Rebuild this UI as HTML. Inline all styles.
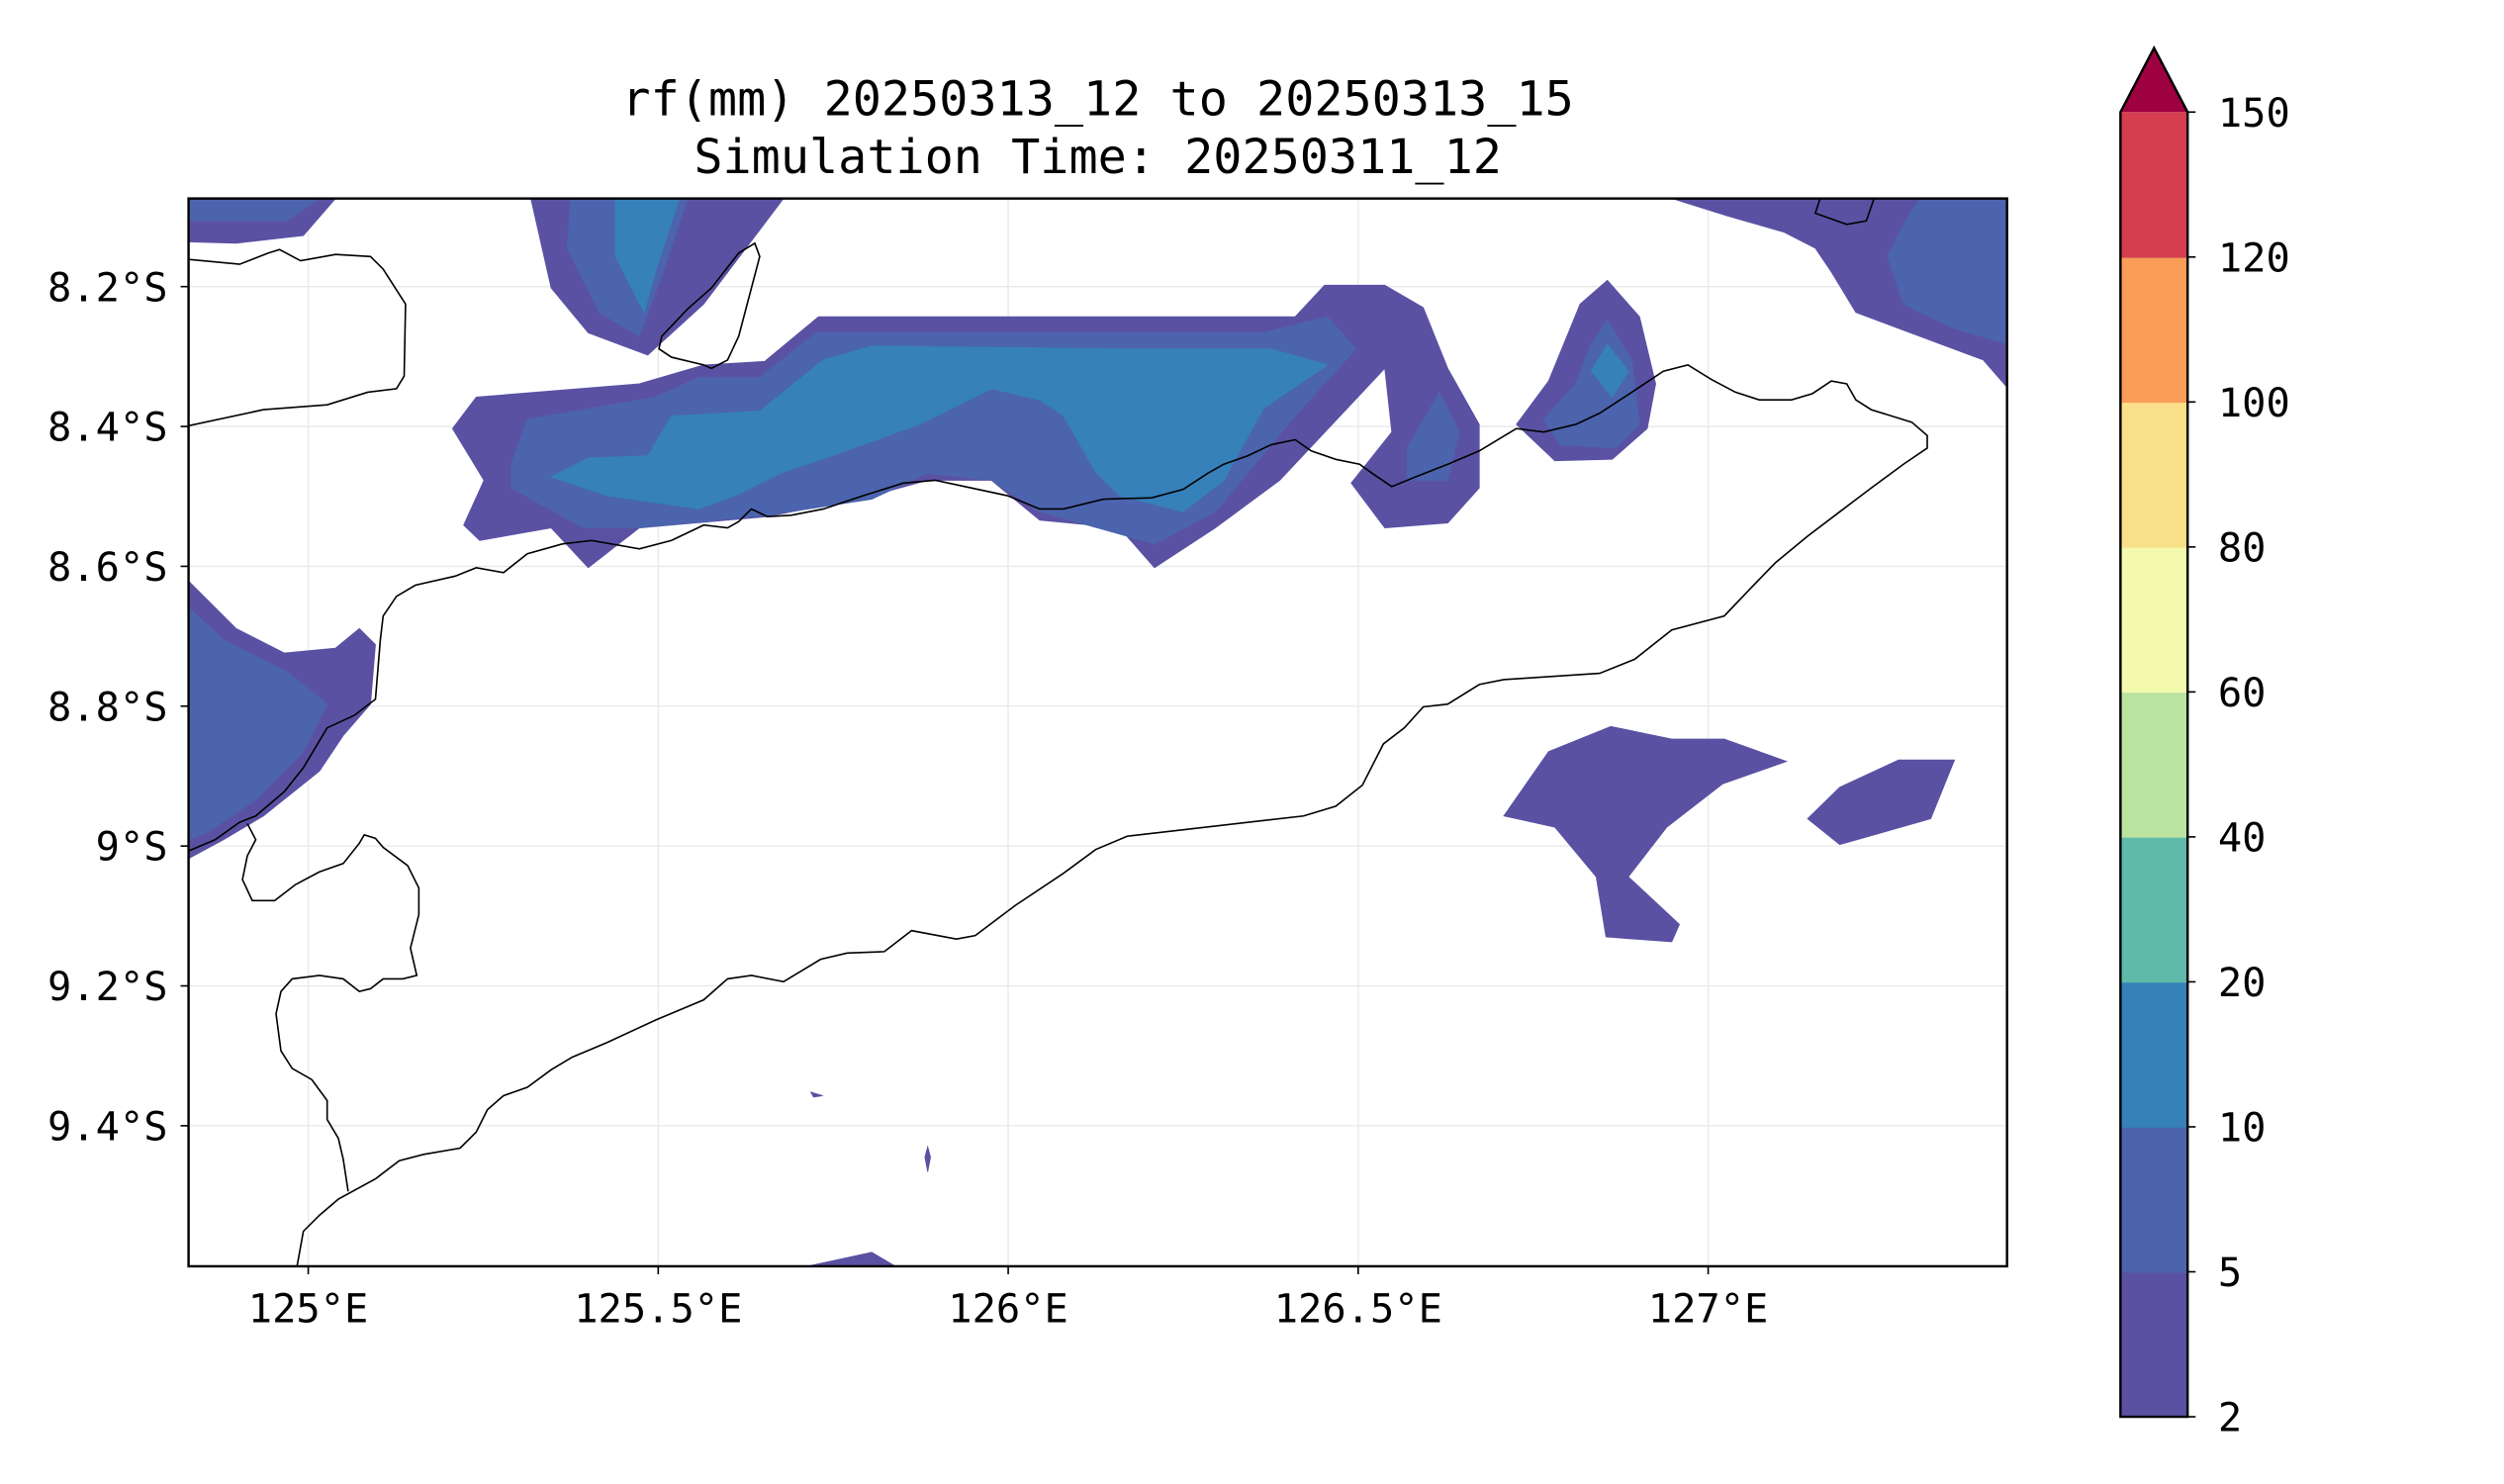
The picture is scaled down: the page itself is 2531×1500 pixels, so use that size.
<!DOCTYPE html>
<html><head><meta charset="utf-8"><style>
html,body{margin:0;padding:0;background:#fff;}
svg{display:block;}
text{font-family:"DejaVu Sans Mono","Liberation Mono",monospace;fill:#000;}
</style></head><body>
<svg id="chart" width="2531" height="1500" viewBox="0 0 1567 927" preserveAspectRatio="none" xmlns="http://www.w3.org/2000/svg">
<rect width="1567" height="927" fill="#fff"/>
<defs><clipPath id="plotclip"><rect x="118" y="124" width="1138" height="667"/></clipPath></defs>
<text x="687" y="72" font-size="30" text-anchor="middle">rf(mm) 20250313_12 to 20250313_15</text>
<text x="687" y="108" font-size="30" text-anchor="middle">Simulation Time: 20250311_12</text>
<g id="grid"></g>
<g id="fills" clip-path="url(#plotclip)"></g>
<g id="coast" clip-path="url(#plotclip)"></g>
<rect x="118" y="124" width="1138" height="667" fill="none" stroke="#000" stroke-width="1.5"/>
<g id="axes"></g>
<g id="cbar"></g>
</svg>
<script>
const lonTicks=[125,125.5,126,126.5,127];
const lonLabels=["125°E","125.5°E","126°E","126.5°E","127°E"];
const latTicks=[8.2,8.4,8.6,8.8,9.0,9.2,9.4];
const latLabels=["8.2°S","8.4°S","8.6°S","8.8°S","9°S","9.2°S","9.4°S"];
const cbLevels=[2,5,10,20,40,60,80,100,120,150];
const cbColors=["#5b51a3","#4b64ad","#3681ba","#5fbaa9","#bae3a0","#f3faae","#fbe08b","#f99d59","#d43e4f"];
const extendColor="#9e0142";
const contourLevels=[0,1,0,1,2,0,1,2,1,0,1,2,0,1,0,1,0,0,0,0,0];
const contourShapes=[
[[124.829,8.074],[125.039,8.074],[124.993,8.127],[124.897,8.138],[124.829,8.136]],
[[124.829,8.074],[125.016,8.074],[124.970,8.106],[124.829,8.106]],
[[125.318,8.074],[125.679,8.074],[125.565,8.225],[125.485,8.298],[125.400,8.266],[125.347,8.202]],
[[125.375,8.074],[125.542,8.074],[125.507,8.179],[125.473,8.271],[125.416,8.237],[125.370,8.145]],
[[125.439,8.074],[125.530,8.074],[125.496,8.179],[125.480,8.237],[125.439,8.157]],
[[125.206,8.403],[125.240,8.358],[125.473,8.339],[125.565,8.312],[125.652,8.307],[125.729,8.243],[126.410,8.243],[126.452,8.198],[126.538,8.198],[126.593,8.230],[126.628,8.317],[126.673,8.397],[126.673,8.488],[126.628,8.538],[126.538,8.545],[126.490,8.481],[126.548,8.408],[126.538,8.317],[126.388,8.477],[126.296,8.545],[126.209,8.602],[126.159,8.545],[126.045,8.534],[125.976,8.477],[125.885,8.477],[125.805,8.499],[125.656,8.529],[125.473,8.545],[125.400,8.602],[125.347,8.545],[125.245,8.563],[125.222,8.541],[125.251,8.477]],
[[125.290,8.454],[125.313,8.390],[125.496,8.358],[125.558,8.330],[125.645,8.330],[125.725,8.266],[126.365,8.266],[126.456,8.243],[126.497,8.289],[126.410,8.385],[126.296,8.522],[126.209,8.568],[126.045,8.522],[125.976,8.477],[125.885,8.467],[125.805,8.504],[125.656,8.527],[125.473,8.545],[125.393,8.545],[125.290,8.488]],
[[125.347,8.472],[125.400,8.445],[125.485,8.442],[125.519,8.385],[125.645,8.378],[125.736,8.305],[125.805,8.285],[126.159,8.289],[126.376,8.289],[126.456,8.312],[126.365,8.374],[126.308,8.477],[126.250,8.522],[126.159,8.499],[126.125,8.465],[126.079,8.385],[126.045,8.362],[125.976,8.346],[125.873,8.397],[125.748,8.442],[125.679,8.465],[125.610,8.499],[125.558,8.518],[125.427,8.499]],
[[126.570,8.431],[126.616,8.351],[126.644,8.408],[126.628,8.477],[126.570,8.477]],
[[126.726,8.397],[126.772,8.335],[126.817,8.225],[126.856,8.191],[126.902,8.243],[126.925,8.339],[126.913,8.403],[126.863,8.447],[126.781,8.449]],
[[126.765,8.390],[126.811,8.339],[126.833,8.282],[126.856,8.248],[126.891,8.305],[126.902,8.397],[126.868,8.431],[126.788,8.426]],
[[126.833,8.321],[126.856,8.282],[126.886,8.321],[126.863,8.358]],
[[126.948,8.074],[127.427,8.074],[127.427,8.344],[127.393,8.305],[127.302,8.271],[127.211,8.237],[127.176,8.179],[127.153,8.145],[127.108,8.122],[127.028,8.099]],
[[127.302,8.074],[127.427,8.074],[127.427,8.282],[127.348,8.259],[127.279,8.225],[127.256,8.157],[127.279,8.111]],
[[124.829,8.621],[124.897,8.689],[124.966,8.724],[125.039,8.717],[125.073,8.689],[125.096,8.712],[125.089,8.797],[125.050,8.842],[125.016,8.893],[124.936,8.957],[124.879,8.991],[124.829,9.018]],
[[124.829,8.659],[124.879,8.705],[124.970,8.751],[125.027,8.797],[124.993,8.865],[124.925,8.934],[124.856,8.980],[124.829,8.991]],
[[126.708,8.957],[126.772,8.865],[126.861,8.829],[126.948,8.847],[127.023,8.847],[127.112,8.879],[127.021,8.911],[126.941,8.973],[126.886,9.044],[126.959,9.112],[126.948,9.137],[126.854,9.130],[126.840,9.044],[126.781,8.973]],
[[127.142,8.961],[127.188,8.916],[127.272,8.877],[127.352,8.877],[127.318,8.961],[127.188,8.998]],
[[125.713,9.601],[125.805,9.581],[125.839,9.601]],
[[125.718,9.352],[125.735,9.357],[125.722,9.359]],
[[125.885,9.430],[125.889,9.445],[125.885,9.466],[125.881,9.445]]
];
const coastLines=[
[[124.829,8.161],[124.902,8.168],[124.943,8.152],[124.959,8.147],[124.989,8.163],[125.039,8.154],[125.089,8.157],[125.107,8.175],[125.139,8.225],[125.137,8.328],[125.126,8.346],[125.085,8.351],[125.027,8.369],[124.936,8.376],[124.829,8.399]],
[[124.829,9.007],[124.867,8.991],[124.902,8.966],[124.925,8.957],[124.966,8.922],[124.993,8.888],[125.027,8.831],[125.066,8.813],[125.096,8.790],[125.103,8.705],[125.107,8.671],[125.126,8.643],[125.153,8.627],[125.210,8.614],[125.240,8.602],[125.279,8.609],[125.313,8.582],[125.363,8.568],[125.405,8.563],[125.473,8.575],[125.519,8.563],[125.565,8.541],[125.599,8.545],[125.615,8.536],[125.633,8.518],[125.656,8.529],[125.690,8.527],[125.736,8.518],[125.793,8.499],[125.850,8.481],[125.896,8.477],[125.999,8.499],[126.045,8.518],[126.079,8.518],[126.136,8.504],[126.205,8.502],[126.250,8.490],[126.285,8.467],[126.308,8.454],[126.342,8.442],[126.376,8.426],[126.410,8.419],[126.433,8.435],[126.468,8.447],[126.502,8.454],[126.520,8.467],[126.548,8.486],[126.582,8.472],[126.628,8.454],[126.673,8.435],[126.726,8.403],[126.765,8.408],[126.811,8.397],[126.845,8.381],[126.891,8.351],[126.936,8.321],[126.971,8.312],[127.005,8.333],[127.039,8.351],[127.073,8.362],[127.119,8.362],[127.149,8.353],[127.176,8.335],[127.198,8.339],[127.211,8.362],[127.233,8.376],[127.291,8.394],[127.313,8.413],[127.313,8.431],[127.279,8.454],[127.233,8.488],[127.188,8.522],[127.142,8.557],[127.096,8.595],[127.062,8.630],[127.023,8.671],[126.948,8.691],[126.895,8.733],[126.845,8.753],[126.708,8.762],[126.673,8.769],[126.628,8.797],[126.593,8.801],[126.566,8.831],[126.536,8.854],[126.506,8.913],[126.468,8.943],[126.422,8.957],[126.170,8.986],[126.125,9.005],[126.079,9.039],[126.010,9.085],[125.953,9.128],[125.926,9.133],[125.862,9.121],[125.823,9.151],[125.770,9.153],[125.732,9.162],[125.679,9.194],[125.633,9.185],[125.599,9.190],[125.565,9.220],[125.496,9.249],[125.427,9.281],[125.377,9.302],[125.347,9.320],[125.313,9.345],[125.279,9.357],[125.256,9.377],[125.240,9.409],[125.217,9.432],[125.165,9.441],[125.130,9.450],[125.096,9.476],[125.043,9.505],[125.016,9.528],[124.993,9.551],[124.984,9.601]],
[[124.913,8.968],[124.925,8.991],[124.913,9.014],[124.906,9.048],[124.920,9.078],[124.952,9.078],[124.982,9.055],[125.016,9.037],[125.050,9.025],[125.073,8.996],[125.080,8.984],[125.096,8.989],[125.107,9.002],[125.142,9.028],[125.158,9.060],[125.158,9.098],[125.146,9.146],[125.155,9.185],[125.135,9.190],[125.107,9.190],[125.089,9.204],[125.073,9.208],[125.050,9.190],[125.016,9.185],[124.977,9.190],[124.961,9.208],[124.954,9.240],[124.961,9.293],[124.977,9.318],[125.005,9.334],[125.027,9.364],[125.027,9.391],[125.043,9.418],[125.050,9.448],[125.057,9.494]],
[[125.576,8.317],[125.599,8.305],[125.615,8.271],[125.645,8.157],[125.638,8.138],[125.615,8.152],[125.576,8.202],[125.542,8.232],[125.505,8.271],[125.501,8.289],[125.519,8.301],[125.565,8.312],[125.576,8.317]],
[[127.160,8.074],[127.153,8.095],[127.198,8.111],[127.226,8.106],[127.237,8.074]]
];
const X0=118,X1=1256,Y0=124,Y1=791,LON0=124.829,LON1=127.427,LAT0=8.074,LAT1=9.601;
function xS(lon){return X0+(lon-LON0)/(LON1-LON0)*(X1-X0);}
function yS(lat){return Y0+(lat-LAT0)/(LAT1-LAT0)*(Y1-Y0);}
const CB_X=1327,CB_W=42,CB_TOP=70,CB_BOT=885,CB_TIP=30;
function cbY(i){return CB_BOT-i*(CB_BOT-CB_TOP)/(cbLevels.length-1);}
const NS="http://www.w3.org/2000/svg";
function mk(tag,attrs,parent){const e=document.createElementNS(NS,tag);for(const k in attrs)e.setAttribute(k,attrs[k]);parent.appendChild(e);return e;}
const grid=document.getElementById('grid'),fills=document.getElementById('fills'),coast=document.getElementById('coast'),axes=document.getElementById('axes'),cbar=document.getElementById('cbar');
lonTicks.forEach((v,i)=>{
 const x=xS(v);
 const g=mk('line',{x1:x,x2:x,y1:Y0,y2:Y1,stroke:'#e8e8e8','stroke-width':0.8},grid);
 
 
 const t=mk('line',{x1:x,x2:x,y1:Y1,y2:Y1+5,stroke:'#000','stroke-width':1},axes);
 
 
 const l=mk('text',{x:x,y:826,'font-size':25,'text-anchor':'middle'},axes);
 l.textContent=lonLabels[i];
 
 
});
latTicks.forEach((v,i)=>{
 const y=yS(v);
 const g=mk('line',{x1:X0,x2:X1,y1:y,y2:y,stroke:'#e8e8e8','stroke-width':0.8},grid);
 
 
 const t=mk('line',{x1:X0-5,x2:X0,y1:y,y2:y,stroke:'#000','stroke-width':1},axes);
 
 
 const l=mk('text',{x:105,y:y+9,'font-size':25,'text-anchor':'end'},axes);
 l.textContent=latLabels[i];
 
 
});
contourShapes.forEach((poly,i)=>{
 const p=mk('polygon',{points:poly.map(q=>xS(q[0])+','+yS(q[1])).join(' '),fill:cbColors[contourLevels[i]],stroke:cbColors[contourLevels[i]],'stroke-width':0.5},fills);
 
 
});
coastLines.forEach(line=>{
 const p=mk('polyline',{points:line.map(q=>xS(q[0])+','+yS(q[1])).join(' '),fill:'none',stroke:'#000','stroke-width':1},coast);
 
 
});
cbColors.forEach((c,i)=>{
 const r=mk('rect',{x:CB_X,y:cbY(i+1),width:CB_W,height:cbY(i)-cbY(i+1)+0.5,fill:c},cbar);
 
 
});
const tri=mk('polygon',{points:`${CB_X},${CB_TOP} ${CB_X+CB_W/2},${CB_TIP} ${CB_X+CB_W},${CB_TOP}`,fill:extendColor},cbar);


const outline=mk('polygon',{points:`${CB_X},${CB_BOT} ${CB_X},${CB_TOP} ${CB_X+CB_W/2},${CB_TIP} ${CB_X+CB_W},${CB_TOP} ${CB_X+CB_W},${CB_BOT}`,fill:'none',stroke:'#000','stroke-width':1.5},cbar);


cbLevels.forEach((v,i)=>{
 const y=cbY(i);
 const t=mk('line',{x1:CB_X+CB_W,x2:CB_X+CB_W+5,y1:y,y2:y,stroke:'#000','stroke-width':1},cbar);
 
 
 const l=mk('text',{x:1388,y:y+9,'font-size':25},cbar);
 l.textContent=String(v);
 
 
});
</script>
</body></html>
